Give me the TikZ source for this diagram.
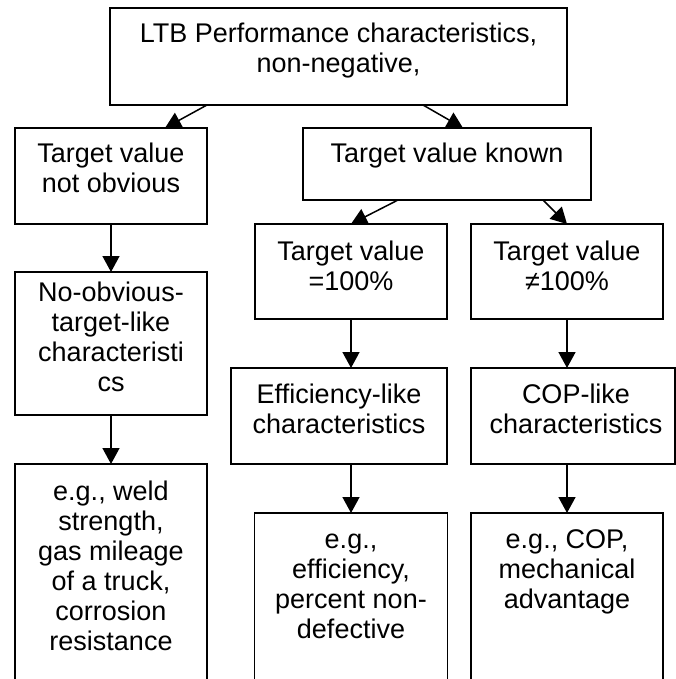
\documentclass[tikz,border=0pt]{standalone}
\usepackage{fontspec}
\setmainfont{Liberation Sans}
\usetikzlibrary{arrows.meta,calc}
\tikzset{
  box/.style={draw=black, line width=1.5pt, inner sep=0pt, outer sep=0pt},
  txt/.style={align=center, inner sep=0pt, font=\fontsize{27}{30}\selectfont, anchor=base},
  arr/.style={line width=1.5pt, -{Triangle[length=16pt,width=17pt]}},
}
\begin{document}
\begin{tikzpicture}[x=1pt,y=-1pt]
\useasboundingbox[fill=white] (0,0) rectangle (676,679);
\clip (0,0) rectangle (676,679);
% boxes
\node[box, minimum width=457pt, minimum height=97pt] (top) at (338.5,56.5) {};
\node[box, minimum width=192pt, minimum height=96pt] (b1) at (111,176) {};
\node[box, minimum width=288pt, minimum height=72pt] (b2) at (447,164) {};
\node[box, minimum width=192pt, minimum height=95pt] (b3) at (351,271.5) {};
\node[box, minimum width=192pt, minimum height=95pt] (b4) at (567,271.5) {};
\node[box, minimum width=192pt, minimum height=143pt] (b5) at (111,343.5) {};
\node[box, minimum width=216pt, minimum height=96pt] (b6) at (339,416) {};
\node[box, minimum width=204pt, minimum height=96pt] (b7) at (573,416) {};
\node[box, minimum width=192pt, minimum height=236pt] (b8) at (111,582) {};
\node[box, minimum width=193pt, minimum height=187pt] (b9) at (351,606.5) {};
\node[box, minimum width=192pt, minimum height=187pt] (b10) at (567,606.5) {};
% texts (base anchor = baseline of last line)
\node[txt] (t0) at (338.5,73) {LTB Performance characteristics,\\non-negative,};
\node[txt] (t1) at (111,193) {Target value\\not obvious};
\node[txt] (t2) at (447,163) {Target value known};
\node[txt] (t3) at (351,290) {Target value\\=100\%};
\node[txt] (t4) at (567,290) {Target value\\≠100\%};
\node[txt] (t5) at (111,391) {No-obvious-\\target-like\\characteristi\\cs};
\node[txt] (t6) at (339,433) {Efficiency-like\\characteristics};
\node[txt] (t7) at (576,433) {COP-like\\characteristics};
\node[txt] (t8) at (111,650) {e.g., weld\\strength,\\gas mileage\\of a truck,\\corrosion\\resistance};
\node[txt] (t9) at (351,638) {e.g.,\\efficiency,\\percent non-\\defective};
\node[txt] (t10) at (567,608) {e.g., COP,\\mechanical\\advantage};
% connectors
\draw[arr] ($(top.south west)+(97,0)$) -- ($(b1.north west)+(150,0)$);
\draw[arr] ($(top.south west)+(313,0)$) -- ($(b2.north west)+(160,0)$);
\draw[arr] (b1.south) -- (b5.north);
\draw[arr] (b5.south) -- (b8.north);
\draw[arr] ($(b2.south west)+(95,0)$) -- (b3.north);
\draw[arr] ($(b2.south west)+(240,0)$) -- (b4.north);
\draw[arr] (b3.south) -- (b3.south |- b6.north);
\draw[arr] (b4.south) -- (b4.south |- b7.north);
\draw[arr] (b9.north |- b6.south) -- (b9.north);
\draw[arr] (b10.north |- b7.south) -- (b10.north);
\end{tikzpicture}
\end{document}
